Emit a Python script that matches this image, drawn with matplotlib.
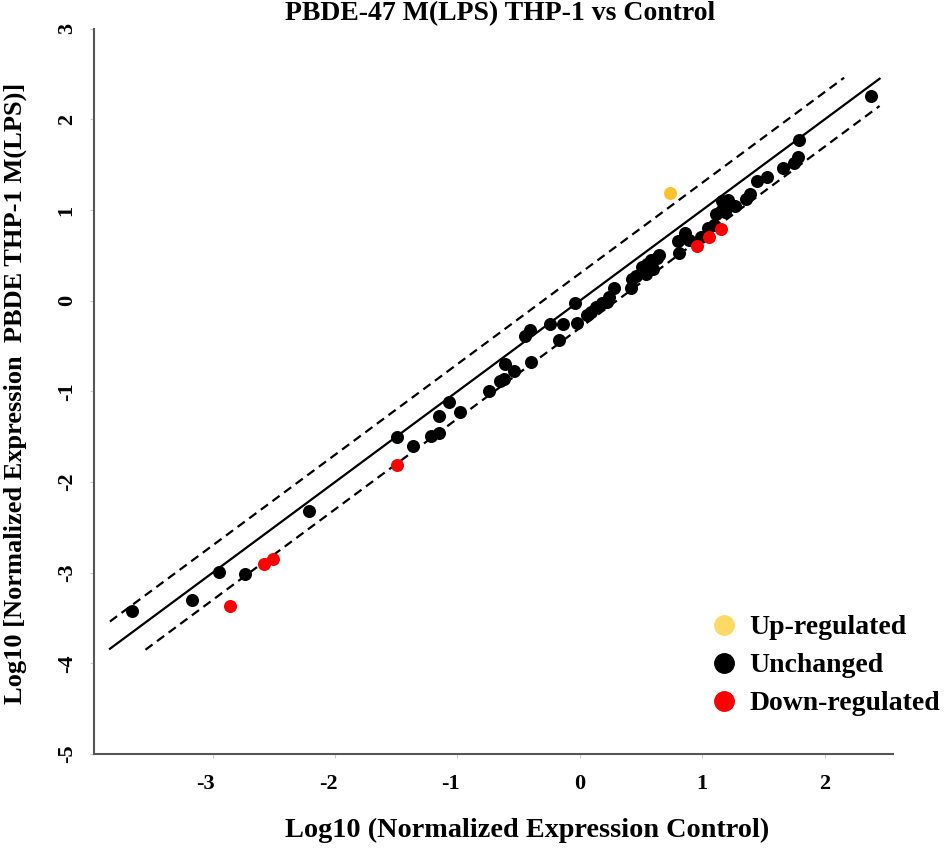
import matplotlib
matplotlib.use('Agg')
import matplotlib.pyplot as plt
import matplotlib.transforms as mtransforms
from matplotlib.lines import Line2D

plt.rcParams['font.family'] = ['Liberation Serif', 'DejaVu Serif']
plt.rcParams['font.weight'] = 'bold'
plt.rcParams['axes.unicode_minus'] = False

# log10 normalized expression: control (x) vs PBDE THP-1 M(LPS) (y)
unchanged_x = [-3.66, -3.17, -2.95, -2.74, -2.21, -1.49, -1.36, -1.22, -1.15, -1.15,
               -1.07, -0.98, -0.74, -0.65, -0.62, -0.61, -0.54, -0.40, -0.45, -0.41,
               -0.24, -0.14, -0.17, -0.04, -0.02, 0.06, 0.09, 0.13, 0.18, 0.22,
               0.24, 0.28, 0.42, 0.43, 0.46, 0.51, 0.54, 0.55, 0.58, 0.60,
               0.65, 0.63, 0.81, 0.80, 0.86, 0.89, 0.99, 1.05, 1.10, 1.11,
               1.15, 1.19, 1.16, 1.21, 1.27, 1.36, 1.39, 1.45, 1.53, 1.66,
               1.75, 1.78, 1.79, 2.38]
unchanged_y = [-3.42, -3.30, -2.99, -3.02, -2.32, -1.50, -1.60, -1.49, -1.46, -1.27,
               -1.12, -1.23, -1.00, -0.88, -0.86, -0.70, -0.78, -0.68, -0.39, -0.32,
               -0.26, -0.26, -0.43, -0.03, -0.25, -0.16, -0.12, -0.07, -0.02, -0.01,
               0.04, 0.14, 0.14, 0.24, 0.27, 0.37, 0.30, 0.41, 0.45, 0.35,
               0.50, 0.47, 0.53, 0.66, 0.75, 0.67, 0.70, 0.80, 0.84, 0.96,
               0.99, 0.98, 1.10, 1.11, 1.05, 1.12, 1.18, 1.32, 1.37, 1.47,
               1.52, 1.59, 1.77, 2.26]
down_x = [-2.86, -2.58, -2.51, -1.49, 0.96, 1.06, 1.15]
down_y = [-3.37, -2.91, -2.85, -1.81, 0.60, 0.70, 0.79]
up_x = [0.74]
up_y = [1.19]

# reference lines y = x and +/- two-fold (log10 2)
fold = 0.301
diag_x = [-3.84, 2.45]
upper_x = [-3.84, 2.16]
lower_x = [-3.55, 2.45]

fig = plt.figure(figsize=(9.45, 8.49), dpi=100)
ax = fig.add_axes([0.0995, 0.112, 0.8455, 0.854])

ax.plot(diag_x, diag_x, color='black', lw=1.6, zorder=2)
ax.plot(upper_x, [v + fold for v in upper_x], color='black', lw=1.6, ls=(0, (4, 2.5)), zorder=2)
ax.plot(lower_x, [v - fold for v in lower_x], color='black', lw=1.6, ls=(0, (4, 2.5)), zorder=2)

ax.scatter(unchanged_x, unchanged_y, s=88, color='black', lw=0, zorder=3)
ax.scatter(down_x, down_y, s=88, color='#ff0000', lw=0, zorder=3)
ax.scatter(up_x, up_y, s=88, color='#f9c22e', lw=0, zorder=3)

ax.set_xlim(-3.97, 2.56)
ax.set_ylim(-5, 3)
ax.set_xticks([-3, -2, -1, 0, 1, 2])
ax.set_yticks([-5, -4, -3, -2, -1, 0, 1, 2, 3])
ax.tick_params(axis='both', length=3, width=0.8, color='#cccccc', labelsize=16)
ax.tick_params(axis='x', pad=11.4)
ax.tick_params(axis='y', pad=9.5)
for lab in ax.get_yticklabels():
    lab.set_rotation(90)
    lab.set_va('center')
for lab in ax.get_xticklabels() + ax.get_yticklabels():
    lab.set_fontweight('bold')
# negative x labels sit a little left of their ticks in the original
shift = mtransforms.ScaledTranslation(-7 / 100, 0, fig.dpi_scale_trans)
for lab in ax.get_xticklabels():
    if lab.get_text().startswith('-'):
        lab.set_transform(lab.get_transform() + shift)

for side in ['top', 'right']:
    ax.spines[side].set_visible(False)
for side in ['left', 'bottom']:
    ax.spines[side].set_color('#555555')
    ax.spines[side].set_linewidth(1.5)

fig.text(0.529, 0.984, 'PBDE-47 M(LPS) THP-1 vs Control', ha='center', va='center',
         fontsize=20, fontweight='bold')
fig.text(0.558, 0.022, 'Log10 (Normalized Expression Control)', ha='center', va='center',
         fontsize=20.3, fontweight='bold')
fig.text(0.016, 0.5365, 'Log10 [Normalized Expression  PBDE THP-1 M(LPS)]', ha='center',
         va='center', rotation=90, fontsize=19, fontweight='bold')

handles = [Line2D([], [], marker='o', ls='', color='#ffd966', markersize=14),
           Line2D([], [], marker='o', ls='', color='black', markersize=14),
           Line2D([], [], marker='o', ls='', color='#ff0000', markersize=14)]
ax.legend(handles, ['Up-regulated', 'Unchanged', 'Down-regulated'],
          loc='center left', bbox_to_anchor=(0.749, 0.216), bbox_transform=fig.transFigure,
          frameon=False, fontsize=20, handletextpad=0.3, labelspacing=0.45,
          handlelength=1.2, borderaxespad=0, borderpad=0)

fig.savefig('out.png', dpi=100)
